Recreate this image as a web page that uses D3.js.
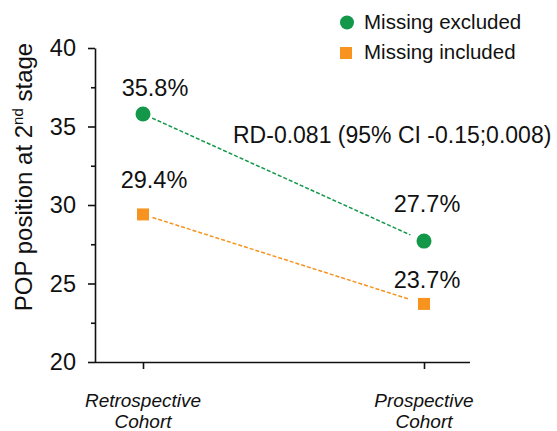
<!DOCTYPE html>
<html>
<head>
<meta charset="utf-8">
<script src="https://cdn.jsdelivr.net/npm/d3@7"></script>
<style>
  body { margin: 0; background: #fff; }
  text { font-family: "Liberation Sans", Arial, sans-serif; fill: #111; }
</style>
</head>
<body>
<div id="chart"></div>
<script>
// data
const cohorts = ["Retrospective Cohort", "Prospective Cohort"];
const seriesNames = ["Missing excluded", "Missing included"];
const excluded = [35.8, 27.7];
const included = [29.4, 23.7];
const yTicks = [20, 25, 30, 35, 40];
const annotation = "RD-0.081 (95% CI -0.15;0.008)";

const width = 557, height = 431;
const colors = ["#13984a", "#f7931e"];
// label placement relative to each marker: [dx, dy] per series, per cohort
const labelShift = [[[12, -18], [3, -29]], [[11, -26], [3, -16]]];

let svg = d3.select("#chart")
    .append("svg")
    .attr("width", width)
    .attr("height", height);

let x = d3.scalePoint()
    .domain(cohorts)
    .range([143, 424]);

let y = d3.scaleLinear()
    .domain([20, 40])
    .range([362, 48]);

// y axis: major + minor ticks
let yAxis = svg.append("g")
    .attr("transform", "translate(95,0)")
    .call(d3.axisLeft(y).tickValues(yTicks).tickSize(7).tickPadding(12).tickSizeOuter(0));
yAxis.selectAll("text").style("font-size", "23.5px").attr("fill", "#111");
svg.append("g")
    .attr("transform", "translate(95,0)")
    .call(d3.axisLeft(y).tickValues([22.5, 27.5, 32.5, 37.5]).tickSize(4).tickFormat("").tickSizeOuter(0))
    .select(".domain").remove();

// x axis
let xAxis = svg.append("g")
    .attr("transform", "translate(0,362)")
    .call(d3.axisBottom(x).tickSize(7).tickSizeOuter(0).tickFormat(""));
xAxis.select(".domain").attr("d", "M95,0.5H470");
svg.selectAll(".domain, .tick line").attr("stroke", "#111").attr("stroke-width", 1.6);

let xl = svg.append("g").selectAll("text").data(cohorts).enter()
    .append("text")
    .attr("x", d => x(d))
    .attr("text-anchor", "middle")
    .style("font-style", "italic")
    .style("font-size", "19px")
    .attr("fill", "#222");
xl.append("tspan").attr("x", d => x(d)).attr("y", 407).text(d => d.split(" ")[0]);
xl.append("tspan").attr("x", d => x(d)).attr("y", 428).text(d => d.split(" ")[1]);

// y axis title
let yt = svg.append("text")
    .attr("transform", "translate(32,177) rotate(-90)")
    .attr("text-anchor", "middle")
    .style("font-size", "24px");
yt.append("tspan").text("POP position at 2");
yt.append("tspan").attr("dy", -9).style("font-size", "15px").text("nd");
yt.append("tspan").attr("dy", 9).text(" stage");

// dashed connecting lines, trimmed near the markers
const series = [excluded, included];
series.forEach(function(vals, i) {
    let x0 = x(cohorts[0]), y0 = y(vals[0]), x1 = x(cohorts[1]), y1 = y(vals[1]);
    let len = Math.hypot(x1 - x0, y1 - y0);
    let ux = (x1 - x0) / len, uy = (y1 - y0) / len;
    svg.append("line")
        .attr("x1", x0 + ux * 10).attr("y1", y0 + uy * 10)
        .attr("x2", x1 - ux * 15).attr("y2", y1 - uy * 15)
        .attr("stroke", colors[i])
        .attr("stroke-width", 1.5)
        .attr("stroke-dasharray", "4,2");
});

// markers
svg.selectAll(".dot").data(excluded).enter()
    .append("circle")
    .attr("cx", (d, i) => x(cohorts[i]))
    .attr("cy", d => y(d))
    .attr("r", 7.5)
    .attr("fill", colors[0]);
svg.selectAll(".sq").data(included).enter()
    .append("rect")
    .attr("x", (d, i) => x(cohorts[i]) - 6)
    .attr("y", d => y(d) - 6)
    .attr("width", 12).attr("height", 12)
    .attr("fill", colors[1]);

// value labels
series.forEach(function(vals, s) {
    svg.append("g").selectAll("text").data(vals).enter()
        .append("text")
        .attr("x", (d, i) => x(cohorts[i]) + labelShift[s][i][0])
        .attr("y", (d, i) => y(d) + labelShift[s][i][1])
        .attr("text-anchor", "middle")
        .style("font-size", "23.5px")
        .text(d => d.toFixed(1) + "%");
});

svg.append("text")
    .attr("x", 233).attr("y", 143)
    .style("font-size", "23px")
    .text(annotation);

// legend
let legend = svg.append("g");
legend.append("circle").attr("cx", 347).attr("cy", 22.5).attr("r", 7).attr("fill", colors[0]);
legend.append("rect").attr("x", 340).attr("y", 47).attr("width", 12).attr("height", 12).attr("fill", colors[1]);
legend.selectAll("text").data(seriesNames).enter()
    .append("text")
    .attr("x", 364)
    .attr("y", (d, i) => 29 + i * 30)
    .style("font-size", "20.5px")
    .text(d => d);
</script>
</body>
</html>
